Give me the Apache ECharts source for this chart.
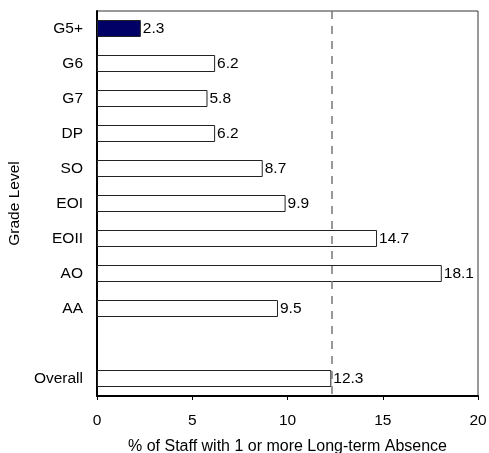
<!DOCTYPE html>
<html><head><meta charset="utf-8">
<script src="https://cdn.jsdelivr.net/npm/echarts@6/dist/echarts.min.js"></script>
<style>html,body{margin:0;padding:0;background:#fff}#c{width:489px;height:453px}</style>
</head><body><div id="c"></div>
<script>
var categories = ['G5+', 'G6', 'G7', 'DP', 'SO', 'EOI', 'EOII', 'AO', 'AA', '', 'Overall'];
var values = [2.3, 6.2, 5.8, 6.2, 8.7, 9.9, 14.7, 18.1, 9.5, null, 12.3];
var highlight = 'G5+';
var referenceValue = 12.3;
var xTicks = [0, 5, 10, 15, 20];

var data = values.map(function (v, i) {
  if (v === null) return '-';
  return {
    value: v,
    itemStyle: { color: categories[i] === highlight ? '#000066' : '#ffffff' }
  };
});

var chart = echarts.init(document.getElementById('c'), null, { renderer: 'canvas' });
chart.setOption({
  animation: false,
  textStyle: { fontFamily: 'Liberation Sans, Arial, sans-serif' },
  grid: { left: 97, right: 11, top: 11, bottom: 57, containLabel: false, outerBoundsMode: 'none',
    show: true, borderColor: '#333', borderWidth: 1, backgroundColor: 'transparent' },
  xAxis: {
    type: 'value', min: xTicks[0], max: xTicks[xTicks.length - 1], interval: xTicks[1] - xTicks[0],
    name: '% of Staff with 1 or more Long-term Absence',
    nameLocation: 'middle', nameGap: 43,
    nameTextStyle: { fontSize: 16, color: '#000' },
    axisLine: { show: true, lineStyle: { color: '#000', width: 2 } },
    axisTick: { show: true, length: 4, lineStyle: { color: '#000' } },
    axisLabel: { fontSize: 15.5, color: '#000', margin: 17 },
    splitLine: { show: false }
  },
  yAxis: {
    type: 'category', data: categories, inverse: true,
    name: 'Grade Level', nameLocation: 'middle', nameGap: 69,
    nameTextStyle: { fontSize: 15.5, color: '#000' },
    axisLine: { show: true, lineStyle: { color: '#000', width: 2 } },
    axisTick: { show: false },
    axisLabel: { fontSize: 15.5, color: '#000', margin: 14 }
  },
  series: [{
    type: 'bar', data: data, barWidth: 17,
    itemStyle: { borderColor: '#222', borderWidth: 1 },
    label: { show: true, position: 'right', distance: 2, fontSize: 15.5, color: '#000',
      formatter: function (p) { return p.value.toFixed(1); } },
    markLine: {
      silent: true, symbol: 'none', animation: false,
      label: { show: false },
      lineStyle: { color: '#777', type: [8, 7], width: 1.5 },
      data: [{ xAxis: referenceValue }]
    }
  }]
});
</script></body></html>
